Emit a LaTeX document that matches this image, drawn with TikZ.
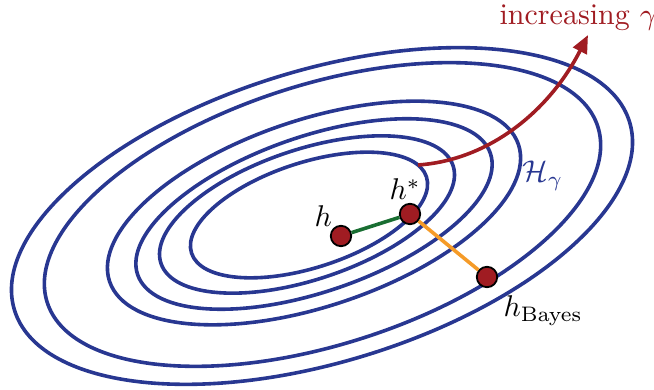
\documentclass[tikz,border=0pt]{standalone}
\usetikzlibrary{arrows.meta}
\definecolor{ringblue}{RGB}{40,55,145}
\definecolor{darkred}{RGB}{160,28,34}
\definecolor{dkgreen}{RGB}{25,110,50}
\definecolor{orng}{RGB}{245,155,40}
\begin{document}
\begin{tikzpicture}[x=0.33333pt,y=0.33333pt,
  ring/.style={draw=ringblue,line width=1.2pt},
  dot/.style={circle,fill=darkred,draw=black,line width=0.6pt,inner sep=0pt,minimum size=6.8pt},
  lbl/.style={anchor=base west,inner sep=0pt}]
\useasboundingbox (0,0) rectangle (654,390);
\draw[ring] (309,175) ellipse [x radius=123.5,y radius=52.5,rotate=18];
\draw[ring] (307,175.5) ellipse [x radius=154,y radius=65,rotate=18.5];
\draw[ring] (314,176) ellipse [x radius=186.5,y radius=77.6,rotate=19];
\draw[ring] (314,177) ellipse [x radius=215.6,y radius=93.3,rotate=18.5];
\draw[ring] (322.5,175.5) ellipse [x radius=289,y radius=130,rotate=17.7];
\draw[ring] (322,174) ellipse [x radius=321.6,y radius=146,rotate=17];
\coordinate (as) at (418,225);
\coordinate (ae) at (588,355);
\draw[darkred,line width=1.2pt,-{Triangle[length=6pt,width=5pt]}] (as) .. controls (490,230) and (550,280) .. (ae);
\node[dot] (h) at (341,154) {};
\node[dot] (hs) at (410,176) {};
\node[dot] (hb) at (487,113) {};
\draw[dkgreen,line width=1.2pt] (h) -- (hs);
\draw[orng,line width=1.2pt] (hs) -- (hb);
\node[lbl] (lh) at (314,163) {$h$};
\node[lbl] (lhs) at (389,190) {$h^*$};
\node[lbl] (lhb) at (503,73) {$h_{\mathrm{Bayes}}$};
\node[lbl,text=ringblue] (lH) at (522,208) {$\mathcal{H}_\gamma$};
\node[lbl,text=darkred] (linc) at (499,365) {increasing $\gamma$};
\end{tikzpicture}
\end{document}
